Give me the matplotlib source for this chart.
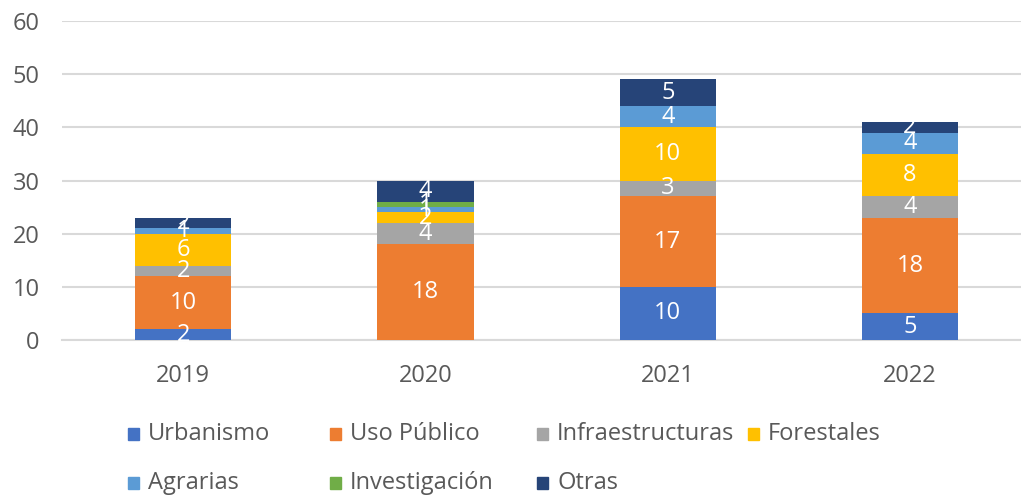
import matplotlib
matplotlib.use("Agg")
import matplotlib.pyplot as plt
from matplotlib.patches import Rectangle

years = ["2019", "2020", "2021", "2022"]
series = ["Urbanismo", "Uso Público", "Infraestructuras", "Forestales",
          "Agrarias", "Investigación", "Otras"]
urbanismo = [2, 0, 10, 5]
uso_publico = [10, 18, 17, 18]
infraestructuras = [2, 4, 3, 4]
forestales = [6, 2, 10, 8]
agrarias = [1, 1, 4, 4]
investigacion = [0, 1, 0, 0]
otras = [2, 4, 5, 2]
values = [urbanismo, uso_publico, infraestructuras, forestales,
          agrarias, investigacion, otras]
colors = ["#4472C4", "#ED7D31", "#A5A5A5", "#FFC000",
          "#5B9BD5", "#70AD47", "#264478"]
yticks = [0, 10, 20, 30, 40, 50, 60]

plt.rcParams['font.family'] = ['Open Sans', 'DejaVu Sans']
W, H = 1021, 497
fig = plt.figure(figsize=(W / 100, H / 100), dpi=100)
left_px, right_px, top_px, bot_px = 62, 1021, 21, 340
ax = fig.add_axes([left_px / W, 1 - bot_px / H, (right_px - left_px) / W, (bot_px - top_px) / H])
spacing = 242.3
ax.set_xlim(-0.5, -0.5 + (right_px - left_px) / spacing)
ax.set_ylim(0, 60)

FS = 17
x = list(range(len(years)))
bottoms = [0] * len(years)
for name, vals, c in zip(series, values, colors):
    ax.bar(x, vals, width=0.397, bottom=bottoms, color=c, zorder=3)
    for i, v in enumerate(vals):
        if v:
            ax.text(x[i], bottoms[i] + v / 2, str(v), ha='center', va='center',
                    color='white', fontsize=FS, zorder=4)
    bottoms = [b + v for b, v in zip(bottoms, vals)]

ax.set_yticks(yticks)
ax.set_xticks(x)
ax.set_xticklabels(years)
ax.tick_params(axis='both', length=0, labelsize=FS, colors='#595959')
ax.tick_params(axis='y', pad=16)
ax.tick_params(axis='x', pad=17)
ax.yaxis.grid(True, color='#D9D9D9', linewidth=1.5, zorder=0)
for s in ['left', 'right', 'top']:
    ax.spines[s].set_visible(False)
ax.spines['bottom'].set_color('#D9D9D9')
ax.spines['bottom'].set_linewidth(1.5)
ax.spines['bottom'].set_zorder(1)

# legend drawn manually in two rows
col_x = [128, 330, 537, 748]
row_y = [434, 483]
order = [(0, 0), (0, 1), (0, 2), (0, 3), (1, 0), (1, 1), (1, 2)]
for (r, cidx), name, c in zip(order, series, colors):
    px, py = col_x[cidx], row_y[r]
    fig.patches.append(Rectangle((px / W, 1 - (py + 6) / H), 11 / W, 12 / H,
                                 transform=fig.transFigure, color=c, figure=fig))
    fig.text((px + 20) / W, 1 - py / H, name, ha='left', va='center',
             fontsize=FS, color='#595959')

fig.savefig("out.png", dpi=100)
